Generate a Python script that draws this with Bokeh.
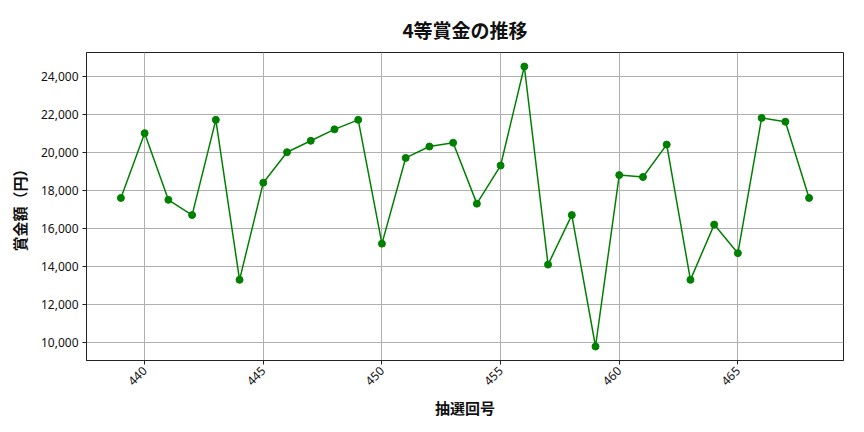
import math
from bokeh.plotting import figure
from bokeh.models import NumeralTickFormatter, FixedTicker, Range1d
from bokeh.embed import file_html
from bokeh.resources import INLINE

draws = list(range(439, 469))
prize = [17600, 21000, 17500, 16700, 21700, 13300, 18400, 20000, 20600, 21200,
         21700, 15200, 19700, 20300, 20500, 17300, 19300, 24500, 14100, 16700,
         9800, 18800, 18700, 20400, 13300, 16200, 14700, 21800, 21600, 17600]
x_ticks = [440, 445, 450, 455, 460, 465]
y_ticks = [10000, 12000, 14000, 16000, 18000, 20000, 22000, 24000]
title_text = "4等賞金の推移"
x_label = "抽選回号"
y_label = "賞金額（円）"

FONT = "Noto Sans CJK JP"
TICK_FONT = "Noto Sans"

xmin, xmax = min(draws), max(draws)
ymin, ymax = min(prize), max(prize)
xm = (xmax - xmin) * 0.05
ym = (ymax - ymin) * 0.05

p = figure(width=848, height=416, output_backend="svg", toolbar_location=None,
           x_range=Range1d(xmin - xm, xmax + xm), y_range=Range1d(ymin - ym, ymax + ym),
           frame_width=757, frame_height=308,
           min_border_left=86, min_border_right=5, min_border_top=52, min_border_bottom=56)

p.title.text = title_text
p.title.align = "center"
p.title.text_font = FONT
p.title.text_font_size = "19px"
p.title.text_font_style = "bold"
p.title.text_color = "#111111"
p.title.standoff = 19

p.line(draws, prize, line_color="green", line_width=1.5)
p.scatter(draws, prize, size=7, fill_color="green", line_color="green")

p.xaxis.ticker = FixedTicker(ticks=x_ticks)
p.yaxis.ticker = FixedTicker(ticks=y_ticks)
p.yaxis.formatter = NumeralTickFormatter(format="0,0")
p.xaxis.major_label_orientation = math.pi / 4

for ax in (p.xaxis, p.yaxis):
    ax.minor_tick_line_color = None
    ax.major_tick_out = 4
    ax.major_tick_in = 0
    ax.major_tick_line_color = "#222222"
    ax.axis_line_color = "#222222"
    ax.major_label_text_font = TICK_FONT
    ax.major_label_text_font_size = "12px"
    ax.major_label_text_color = "#111111"
    ax.major_label_standoff = 4
    ax.axis_label_text_font = FONT
    ax.axis_label_text_font_size = "15px"
    ax.axis_label_text_font_style = "bold"
    ax.axis_label_text_color = "#111111"

p.xaxis.axis_label = x_label
p.yaxis.axis_label = y_label
p.yaxis.axis_label_standoff = 8

p.xgrid.ticker = FixedTicker(ticks=x_ticks)
p.ygrid.ticker = FixedTicker(ticks=y_ticks)
p.grid.grid_line_color = "#b0b0b0"
p.grid.grid_line_width = 1

p.outline_line_color = "#222222"
p.outline_line_width = 1
p.outline_line_alpha = 1

open("out.html", "w").write(file_html(p, INLINE))
